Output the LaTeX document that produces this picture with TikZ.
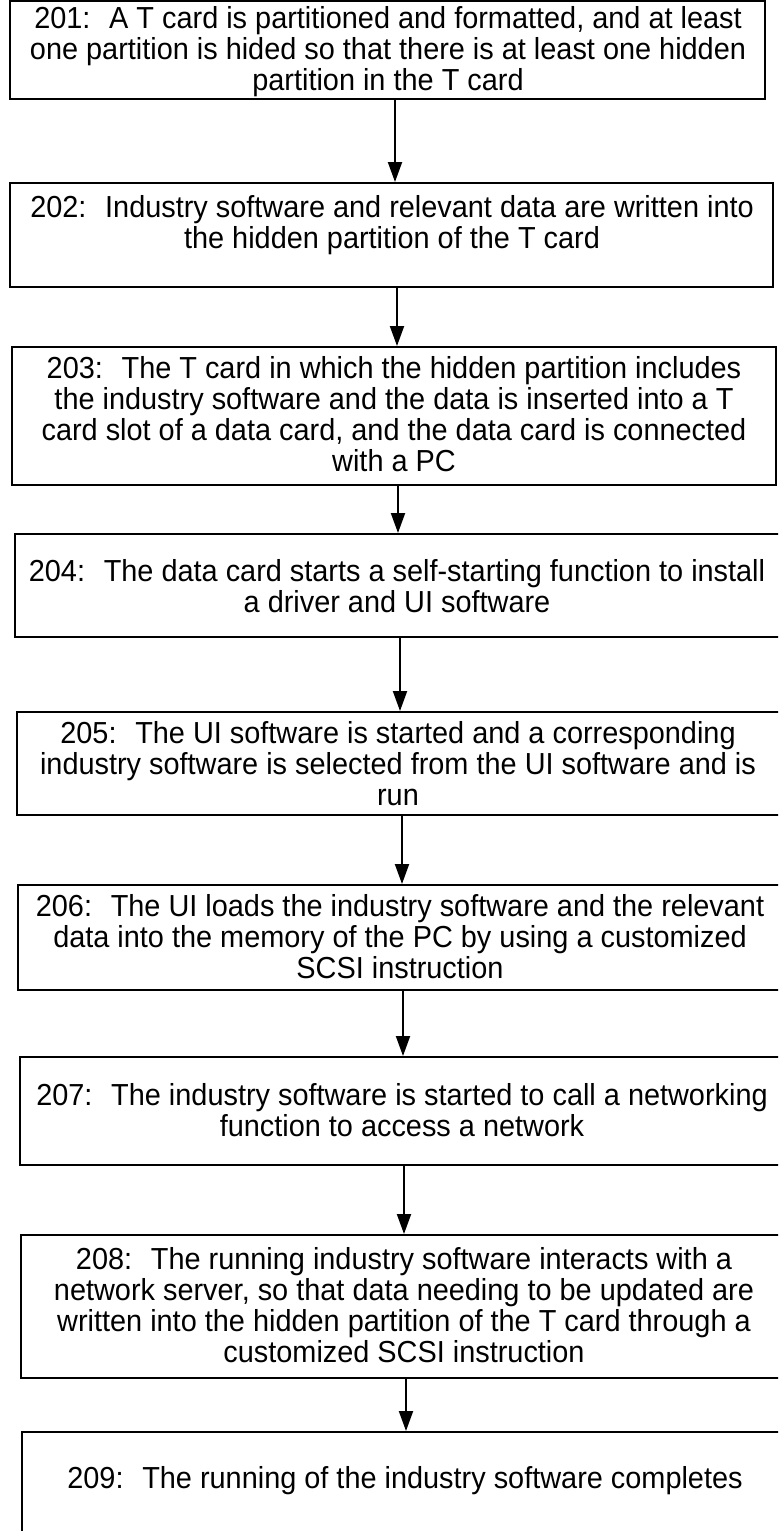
\documentclass[tikz,border=0pt]{standalone}
\usepackage{fontspec}
\setmainfont{Liberation Sans}[FakeStretch=0.95]
\usetikzlibrary{arrows.meta,fit}
\begin{document}
\begin{tikzpicture}[x=0.5pt, y=-0.5pt,
  box/.style={draw, line width=1pt, inner sep=0pt},
  txt/.style={align=center, inner sep=0pt, font=\fontsize{15.2}{15.5}\selectfont},
  arr/.style={line width=1pt, -{Triangle[length=10pt,width=7pt]}}]
\useasboundingbox (0,0) rectangle (778,1531);
\clip (0,0) rectangle (778,1531);
\fill[white] (0,0) rectangle (778,1531);

% step boxes
\node[box, fit={(10,1) (765,99)}]      (b201) {};
\node[box, fit={(10,183) (773,287)}]   (b202) {};
\node[box, fit={(12,347) (776,485)}]   (b203) {};
\node[box, fit={(15,534) (785,637)}]   (b204) {};
\node[box, fit={(17,712) (787,815)}]   (b205) {};
\node[box, fit={(18,885) (788,990)}]   (b206) {};
\node[box, fit={(20,1057) (790,1165)}] (b207) {};
\node[box, fit={(21,1235) (791,1378)}] (b208) {};
\node[box, fit={(22,1432) (792,1560)}] (b209) {};

% step texts
\node[txt] (t201) at (388,52) {201:~ A T card is partitioned and formatted, and at least\\ one partition is hided so that there is at least one hidden\\ partition in the T card};
\node[txt] (t202) at (392,225) {202:~ Industry software and relevant data are written into\\ the hidden partition of the T card};
\node[txt] (t203) at (394,414) {203:~ The T card in which the hidden partition includes\\ the industry software and the data is inserted into a T\\ card slot of a data card, and the data card is connected\\ with a PC};
\node[txt] (t204) at (397,586) {204:~ The data card starts a self-starting function to install\\ a driver and UI software};
\node[txt] (t205) at (398,764) {205:~ The UI software is started and a corresponding\\ industry software is selected from the UI software and is\\ run};
\node[txt] (t206) at (400,937) {206:~ The UI loads the industry software and the relevant\\ data into the memory of the PC by using a customized\\ SCSI instruction};
\node[txt] (t207) at (402,1110) {207:~ The industry software is started to call a networking\\ function to access a network};
\node[txt] (t208) at (404,1305) {208:~ The running industry software interacts with a\\ network server, so that data needing to be updated are\\ written into the hidden partition of the T card through a\\ customized SCSI instruction};
\node[txt] (t209) at (405,1481) {209:~ The running of the industry software completes};

% flow arrows
\draw[arr] ([xshift=3.75pt]b201.south) -- ([xshift=3.75pt]b201.south |- b202.north);
\draw[arr] ([xshift=2.75pt]b202.south) -- ([xshift=2.75pt]b202.south |- b203.north);
\draw[arr] ([xshift=2pt]b203.south) -- ([xshift=2pt]b203.south |- b204.north);
\draw[arr] (b204.south) -- (b204.south |- b205.north);
\draw[arr] (b205.south) -- (b205.south |- b206.north);
\draw[arr] (b206.south) -- (b206.south |- b207.north);
\draw[arr] ([xshift=-0.5pt]b207.south) -- ([xshift=-0.5pt]b207.south |- b208.north);
\draw[arr] (b208.south) -- (b208.south |- b209.north);
\end{tikzpicture}
\end{document}
